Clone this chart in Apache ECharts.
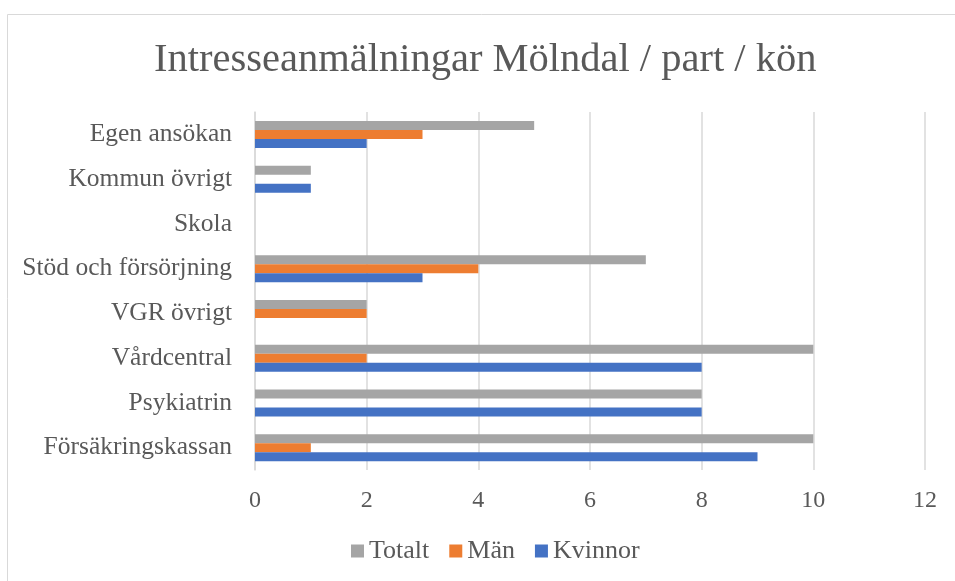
<!DOCTYPE html>
<html>
<head>
<meta charset="utf-8">
<script src="https://cdn.jsdelivr.net/npm/echarts@6/dist/echarts.min.js"></script>
<style>
  html, body { margin: 0; padding: 0; background: #fff; }
  #main { width: 955px; height: 581px; }
</style>
</head>
<body>
<div id="main"></div>
<script>
// kategorier, nerifrån och upp
const categories = ['Försäkringskassan', 'Psykiatrin', 'Vårdcentral', 'VGR övrigt', 'Stöd och försörjning', 'Skola', 'Kommun övrigt', 'Egen ansökan']
const kvinnor = [9, 8, 8, 0, 3, 0, 1, 2]
const man = [1, 0, 2, 2, 4, 0, 0, 3]
const totalt = [10, 8, 10, 2, 7, 0, 1, 5]
const xTicks = [0, 2, 4, 6, 8, 10, 12]

const fontName = 'Liberation Serif'
const textColor = '#595959'
const chart = echarts.init(document.getElementById('main'))

const barSeries = (name, values, color) => ({
  name: name,
  type: 'bar',
  data: values,
  barWidth: 9,
  barGap: '0%',
  itemStyle: { color: color },
  silent: true
})

chart.setOption({
  animation: false,
  textStyle: { fontFamily: fontName },
  title: {
    text: 'Intresseanmälningar Mölndal / part / kön',
    left: 149,
    top: 35,
    textStyle: { fontFamily: fontName, fontSize: 40.5, fontWeight: 'normal', color: textColor }
  },
  graphic: [{
    type: 'rect',
    shape: { x: 7.5, y: 14.5, width: 1200, height: 1000 },
    style: { fill: 'none', stroke: '#d9d9d9', lineWidth: 1 },
    silent: true
  }],
  legend: {
    data: ['Totalt', 'Män', 'Kvinnor'],
    bottom: 12,
    left: 346,
    icon: 'rect',
    itemWidth: 13,
    itemHeight: 13,
    itemGap: 20,
    textStyle: { fontFamily: fontName, fontSize: 26, color: textColor }
  },
  grid: { left: 255, right: 30, top: 112, bottom: 111, containLabel: false },
  xAxis: {
    type: 'value',
    min: xTicks[0],
    max: xTicks[xTicks.length - 1],
    interval: 2,
    axisLine: { show: false },
    axisTick: { show: false },
    splitLine: { lineStyle: { color: '#d9d9d9', width: 1.5 } },
    axisLabel: { fontFamily: fontName, fontSize: 24, color: textColor, margin: 19 }
  },
  yAxis: {
    type: 'category',
    data: categories,
    axisLine: { lineStyle: { color: '#d9d9d9', width: 1.5 } },
    axisTick: { show: false },
    axisLabel: { fontFamily: fontName, fontSize: 25.5, color: textColor, margin: 23 }
  },
  // ECharts lägger första serien överst i gruppen
  series: [
    barSeries('Totalt', totalt, '#a5a5a5'),
    barSeries('Män', man, '#ed7d31'),
    barSeries('Kvinnor', kvinnor, '#4472c4')
  ]
})
</script>
</body>
</html>
